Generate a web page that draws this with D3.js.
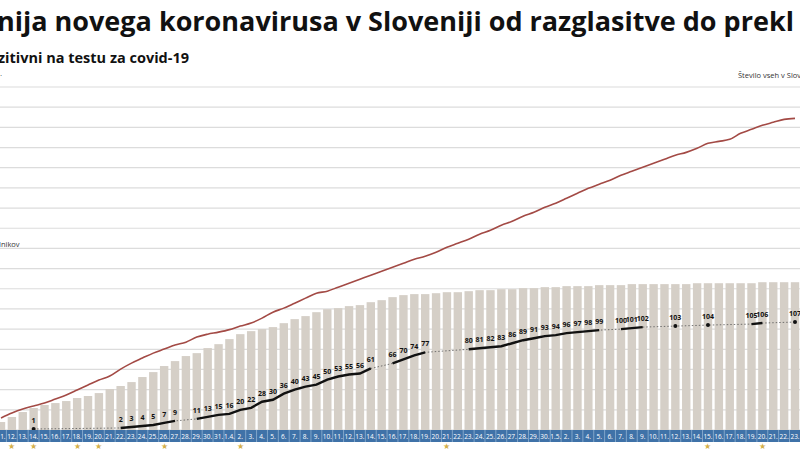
<!DOCTYPE html>
<html><head><meta charset="utf-8">
<script src="https://cdn.jsdelivr.net/npm/d3@7"></script>
<style>body{margin:0;background:#fff}svg{display:block;font-family:"Open Sans",sans-serif}</style>
</head><body><svg id="c" width="800" height="450"></svg>
<script>
const dates = ["11.","12.","13.","14.","15.","16.","17.","18.","19.","20.","21.","22.","23.","24.","25.","26.","27.","28.","29.","30.","31.","1.4.","2.","3.","4.","5.","6.","7.","8.","9.","10.","11.","12.","13.","14.","15.","16.","17.","18.","19.","20.","21.","22.","23.","24.","25.","26.","27.","28.","29.","30.","1.5.","2.","3.","4.","5.","6.","7.","8.","9.","10.","11.","12.","13.","14.","15.","16.","17.","18.","19.","20.","21.","22.","23."];
// cumulative positives (bars)
const positives = [79,129,178,218,248,267,287,317,337,366,406,436,475,525,574,634,683,733,762,812,851,901,950,980,1000,1020,1059,1099,1129,1168,1198,1208,1228,1238,1267,1287,1317,1337,1347,1347,1356,1366,1366,1376,1386,1386,1396,1396,1406,1406,1416,1416,1426,1426,1426,1436,1436,1436,1446,1446,1446,1446,1446,1446,1455,1455,1455,1455,1455,1455,1465,1465,1465,1465];
// all tested (red line)
const tested = [119,168,208,238,267,307,347,396,446,495,535,604,663,713,762,802,842,871,921,950,970,995,1030,1060,1109,1168,1208,1257,1307,1356,1376,1416,1455,1495,1535,1574,1614,1653,1693,1723,1762,1812,1851,1891,1941,1980,2030,2069,2119,2158,2208,2248,2297,2347,2396,2436,2475,2525,2564,2604,2644,2683,2723,2752,2792,2842,2861,2881,2941,2980,3020,3050,3079,3089];
// deaths: [day index, value]
const deaths = [[3,1],[11,2],[12,3],[13,4],[14,5],[15,7],[16,9],[18,11],[19,13],[20,15],[21,16],[22,20],[23,22],[24,28],[25,30],[26,36],[27,40],[28,43],[29,45],[30,50],[31,53],[32,55],[33,56],[34,61],[36,66],[37,70],[38,74],[39,77],[43,80],[44,81],[45,82],[46,83],[47,86],[48,89],[49,91],[50,93],[51,94],[52,96],[53,97],[54,98],[55,99],[57,100],[58,101],[59,102],[62,103],[65,104],[69,105],[70,106],[73,107]];
const stars = [1,3,7,9,15,22,41,65,70];
const gridTicks = d3.range(0,3401,200);

const svg = d3.select("#c");
const x = d3.scaleLinear().domain([0,73]).range([1,795]);
const y = d3.scaleLinear().domain([0,3400]).range([430,87]);
const yD = d3.scaleLinear().domain([0,340]).range([430,87]);

svg.append("g").selectAll("line").data(gridTicks).join("line")
  .attr("x1",0).attr("x2",800).attr("y1",d=>y(d)).attr("y2",d=>y(d))
  .attr("stroke","#dcdcdc").attr("stroke-width",1.2);

svg.append("g").selectAll("rect").data(positives).join("rect")
  .attr("x",(d,i)=>x(i)-4.2).attr("width",8.4)
  .attr("y",d=>y(d)).attr("height",d=>430-y(d)).attr("fill","#d5cfc7");

svg.append("path").datum(tested)
  .attr("d",d3.line().x((d,i)=>x(i)).y(d=>y(d)).curve(d3.curveMonotoneX))
  .attr("fill","none").attr("stroke","#a34a45").attr("stroke-width",1.6);

const lD = d3.line().x(d=>x(d[0])).y(d=>yD(d[1]));
svg.append("path").datum(deaths).attr("d",lD).attr("fill","none")
  .attr("stroke","#555").attr("stroke-width",0.8).attr("stroke-dasharray","1.5,2");
const segs=[];let cur=[deaths[0]];
for(let k=1;k<deaths.length;k++){ if(deaths[k][0]===deaths[k-1][0]+1) cur.push(deaths[k]); else {segs.push(cur);cur=[deaths[k]];} }
segs.push(cur);
svg.append("g").selectAll("path").data(segs.filter(s=>s.length>1)).join("path")
  .attr("d",lD).attr("fill","none").attr("stroke","#111").attr("stroke-width",2.4);
svg.append("g").selectAll("circle").data(segs.filter(s=>s.length===1).map(s=>s[0])).join("circle")
  .attr("cx",d=>x(d[0])).attr("cy",d=>yD(d[1])).attr("r",2).attr("fill","#111");
svg.append("g").selectAll("text").data(deaths).join("text")
  .attr("x",d=>x(d[0])).attr("y",d=>yD(d[1])-6).attr("text-anchor","middle")
  .attr("font-size",7).attr("font-weight","bold").attr("fill","#111").text(d=>d[1]);

const band = svg.append("g");
band.append("rect").attr("x",0).attr("y",430).attr("width",800).attr("height",12).attr("fill","#3f72a8");
band.selectAll("line").data(dates).join("line")
  .attr("x1",(d,i)=>x(i)+5.4).attr("x2",(d,i)=>x(i)+5.4).attr("y1",430).attr("y2",442)
  .attr("stroke","#9dbbd9").attr("stroke-width",0.7);
band.selectAll("text").data(dates).join("text")
  .attr("x",(d,i)=>x(i)).attr("y",439).attr("text-anchor","middle")
  .attr("font-size",6.5).attr("fill","#fff").text(d=>d);
svg.append("g").selectAll("text").data(stars).join("text")
  .attr("x",d=>x(d)).attr("y",449).attr("text-anchor","middle")
  .attr("font-size",8).attr("fill","#d4b04a").text("★");

svg.append("text").attr("x",-3).attr("y",31).attr("font-size",27).attr("font-weight","bold")
  .attr("fill","#111")
  .text("nija novega koronavirusa v Sloveniji od razglasitve do prekl");
svg.append("text").attr("x",-2).attr("y",63).attr("font-size",14.5).attr("font-weight","bold")
  .attr("fill","#111").text("zitivni na testu za covid-19");
svg.append("text").attr("x",0).attr("y",78).attr("font-size",8).attr("fill","#333").text("·");
svg.append("text").attr("x",738).attr("y",78).attr("font-size",7.5).attr("fill","#333").text("Število vseh v Slovenji");
svg.append("text").attr("x",-1).attr("y",247).attr("font-size",7.5).attr("fill","#333").text("lnikov");
</script></body></html>
